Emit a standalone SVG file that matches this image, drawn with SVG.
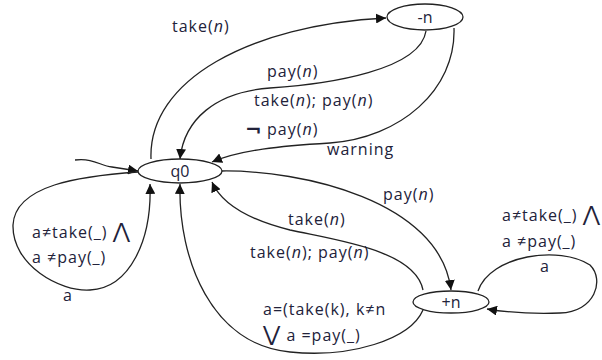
<svg xmlns="http://www.w3.org/2000/svg" width="602" height="360" viewBox="0 0 602 360">
  <defs>
    <marker id="arrow" viewBox="0 0 10 10" refX="10" refY="5" markerWidth="10" markerHeight="10" markerUnits="userSpaceOnUse" orient="auto">
      <path d="M0,0 L10,5 L0,10 Z" fill="#111"/>
    </marker>
    <style>
      .state { fill: #fff; stroke: #222; stroke-width: 1.3; }
      .edge { fill: none; stroke: #222; stroke-width: 1.3; }
      .arr { marker-end: url(#arrow); }
      text { font-family: "Open Sans", "Noto Sans", "DejaVu Sans", sans-serif; font-size: 16px; letter-spacing: 1px; fill: #22223a; }
      .lbl { text-anchor: middle; letter-spacing: 0; }
      .it { font-style: italic; }
      .neg { font-family: "DejaVu Sans", sans-serif; font-size: 20px; font-weight: bold; }
      .op { font-family: "DejaVu Sans", sans-serif; font-size: 21px; }
    </style>
  </defs>

  <!-- transitions -->
  <g id="edges">
    <!-- initial -->
    <path class="edge arr" d="M75,160 C95,158 100,166 112,167 L138,171"/>
    <!-- q0 -> -n : take(n) -->
    <path class="edge arr" d="M151,159 C148,80 250,25 386,18"/>
    <!-- -n -> q0 : pay(n) / take(n); pay(n) -->
    <path class="edge arr" d="M426,31 C420,70 330,84 270,88 C215,92 184,120 180,159"/>
    <!-- -n -> q0 : not pay(n) / warning -->
    <path class="edge arr" d="M454,28 C456,90 400,138 330,143 C280,146 240,150 212,162"/>
    <!-- q0 -> +n : pay(n) -->
    <path class="edge arr" d="M222,171 C300,170 440,200 451,290"/>
    <!-- +n -> q0 : take(n) / take(n); pay(n) -->
    <path class="edge arr" d="M423,290 C415,250 335,240 290,230 C250,220 222,205 212,182"/>
    <!-- +n -> q0 : other take / pay -->
    <path class="edge arr" d="M423,310 C410,340 350,358 290,352 C212,345 178,260 180,184"/>
    <!-- q0 self loop -->
    <path class="edge arr" d="M138,172 C80,176 15,185 13,225 C12,265 60,292 90,290 C130,288 152,240 150,184"/>
    <!-- +n self loop -->
    <path class="edge arr" d="M478,291 C490,255 560,245 590,265 C605,280 595,312 560,313 C530,314 505,312 487,309"/>
  </g>

  <!-- states -->
  <g id="q0">
    <ellipse class="state" cx="180" cy="171" rx="42" ry="12"/>
    <text class="lbl" x="180" y="177">q0</text>
  </g>
  <g id="minus-n">
    <ellipse class="state" cx="425" cy="17" rx="38" ry="13"/>
    <text class="lbl" x="425" y="23">-n</text>
  </g>
  <g id="plus-n">
    <ellipse class="state" cx="451" cy="302" rx="38" ry="11"/>
    <text class="lbl" x="451" y="308">+n</text>
  </g>

  <!-- edge labels -->
  <g id="labels">
    <text x="172" y="32">take(<tspan class="it">n</tspan>)</text>
    <text x="267" y="77">pay(<tspan class="it">n</tspan>)</text>
    <text x="254" y="106">take(<tspan class="it">n</tspan>); pay(<tspan class="it">n</tspan>)</text>
    <text class="neg" x="245" y="136">¬</text>
    <text x="267" y="135">pay(<tspan class="it">n</tspan>)</text>
    <text x="327" y="155">warning</text>
    <text x="383" y="200">pay(<tspan class="it">n</tspan>)</text>
    <text x="288" y="225">take(<tspan class="it">n</tspan>)</text>
    <text x="250" y="258">take(<tspan class="it">n</tspan>); pay(<tspan class="it">n</tspan>)</text>
    <text x="263" y="315">a=(take(k), k≠n</text>
    <text x="263" y="341"><tspan class="op">⋁</tspan> a =pay(_)</text>
    <text x="32" y="238">a≠take(_) <tspan class="op">⋀</tspan></text>
    <text x="32" y="263">a ≠pay(_)</text>
    <text x="63" y="301">a</text>
    <text x="502" y="221">a≠take(_) <tspan class="op">⋀</tspan></text>
    <text x="502" y="247">a ≠pay(_)</text>
    <text x="540" y="272">a</text>
  </g>
</svg>
